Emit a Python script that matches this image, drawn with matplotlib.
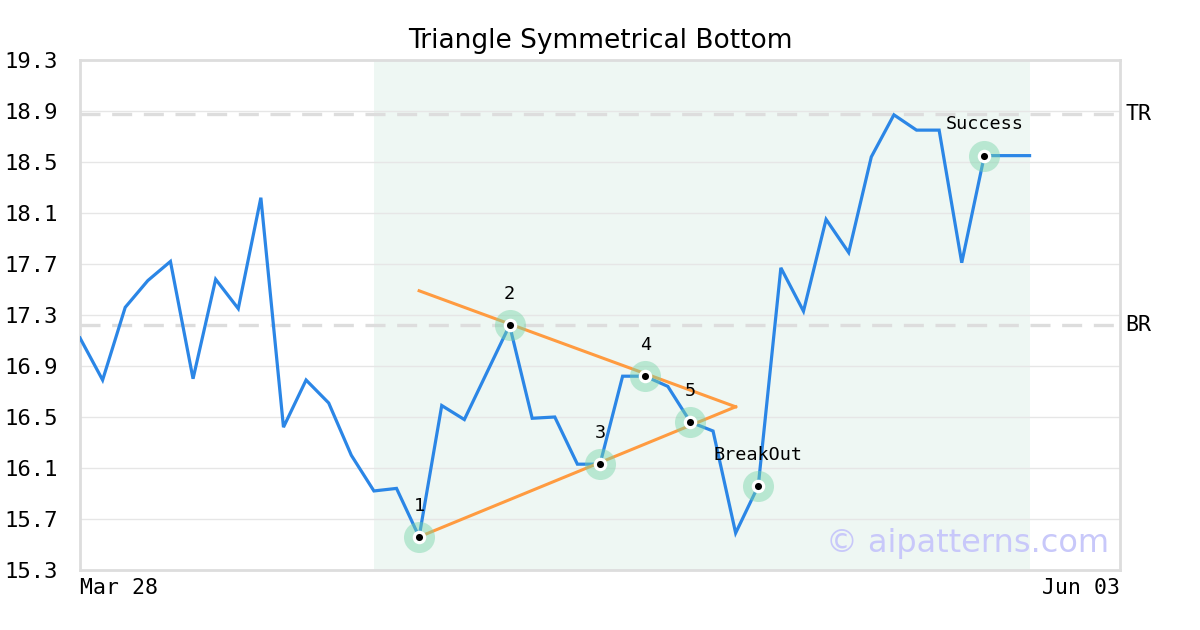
import matplotlib
matplotlib.use("Agg")
import matplotlib.pyplot as plt
import matplotlib.transforms as mtransforms

# ---- data ----
prices = [17.12, 16.79, 17.36, 17.57, 17.72, 16.80, 17.58, 17.35, 18.22, 16.42,
          16.79, 16.61, 16.20, 15.92, 15.94, 15.56, 16.59, 16.48, 16.85, 17.22,
          16.49, 16.50, 16.13, 16.13, 16.82, 16.82, 16.74, 16.46, 16.39, 15.59,
          15.96, 17.67, 17.33, 18.05, 17.79, 18.54, 18.87, 18.75, 18.75, 17.71,
          18.55, 18.55, 18.55]
x_labels = ["Mar 28", "Jun 03"]
x_label_pos = [0, 46]
y_ticks = [15.3, 15.7, 16.1, 16.5, 16.9, 17.3, 17.7, 18.1, 18.5, 18.9, 19.3]

shade_start, shade_end = 13, 42
tr_level, br_level = 18.88, 17.22

upper_line_x = [15, 29]
upper_line_y = [17.49, 16.58]
lower_line_x = [15, 29]
lower_line_y = [15.56, 16.58]

point_idx = [15, 19, 23, 25, 27, 30, 40]
point_labels = ["1", "2", "3", "4", "5", "BreakOut", "Success"]

# ---- plot ----
fig = plt.figure(figsize=(12, 6.3), dpi=100)
ax = fig.add_axes([80/1200, 60/630, 1040/1200, 510/630])

mono = "DejaVu Sans Mono"

ax.axvspan(shade_start, shade_end, color="#eef7f3", zorder=0, lw=0)
for yv in y_ticks:
    ax.axhline(yv, color="#e6e6e6", lw=1, zorder=1)

for lvl in (tr_level, br_level):
    ax.axhline(lvl, color="#dddddd", lw=2.4, dashes=(6, 3.5), zorder=2)

xs = list(range(len(prices)))
ax.plot(xs, prices, color="#2b86e6", lw=2.3, zorder=3, solid_joinstyle="miter")
ax.plot(upper_line_x, upper_line_y, color="#ff9b40", lw=2.2, zorder=4)
ax.plot(lower_line_x, lower_line_y, color="#ff9b40", lw=2.2, zorder=4)

px = point_idx
py = [prices[i] for i in point_idx]
ax.scatter(px, py, s=500, color="#77d4a8", alpha=0.45, lw=0, zorder=5)
ax.scatter(px, py, s=95, color="white", lw=0, zorder=6)
ax.scatter(px, py, s=26, color="black", lw=0, zorder=7)
for xi, yi, lab in zip(px, py, point_labels):
    ax.annotate(lab, (xi, yi), xytext=(0, 16), textcoords="offset points",
                ha="center", va="bottom", fontsize=13.3, family=mono, zorder=8)

ax.set_xlim(0, 46)
ax.set_ylim(15.3, 19.3)
ax.set_yticks(y_ticks)
ax.set_yticklabels([f"{v:.1f}" for v in y_ticks], family=mono, fontsize=16)
ax.set_xticks(x_label_pos)
ax.set_xticklabels(x_labels, family=mono, fontsize=15.5)
tl = ax.get_xticklabels()
tl[0].set_ha("left")
tl[1].set_ha("right")
ax.tick_params(length=0, pad=6)
ax.tick_params(axis="y", pad=16)

for s in ax.spines.values():
    s.set_color("#dddddd")
    s.set_linewidth(2)

trans = mtransforms.blended_transform_factory(ax.transAxes, ax.transData)
ax.text(1.005, tr_level, "TR", transform=trans, fontsize=15.5, family=mono,
        va="center", ha="left", clip_on=False)
ax.text(1.005, br_level, "BR", transform=trans, fontsize=15.5, family=mono,
        va="center", ha="left", clip_on=False)

ax.text(0.99, 0.036, "© aipatterns.com", transform=ax.transAxes, ha="right",
        va="baseline", fontsize=23, color="#c8c8fa", zorder=9)

ax.set_title("Triangle Symmetrical Bottom", fontsize=19, pad=9)

fig.savefig("out.png", dpi=100)
